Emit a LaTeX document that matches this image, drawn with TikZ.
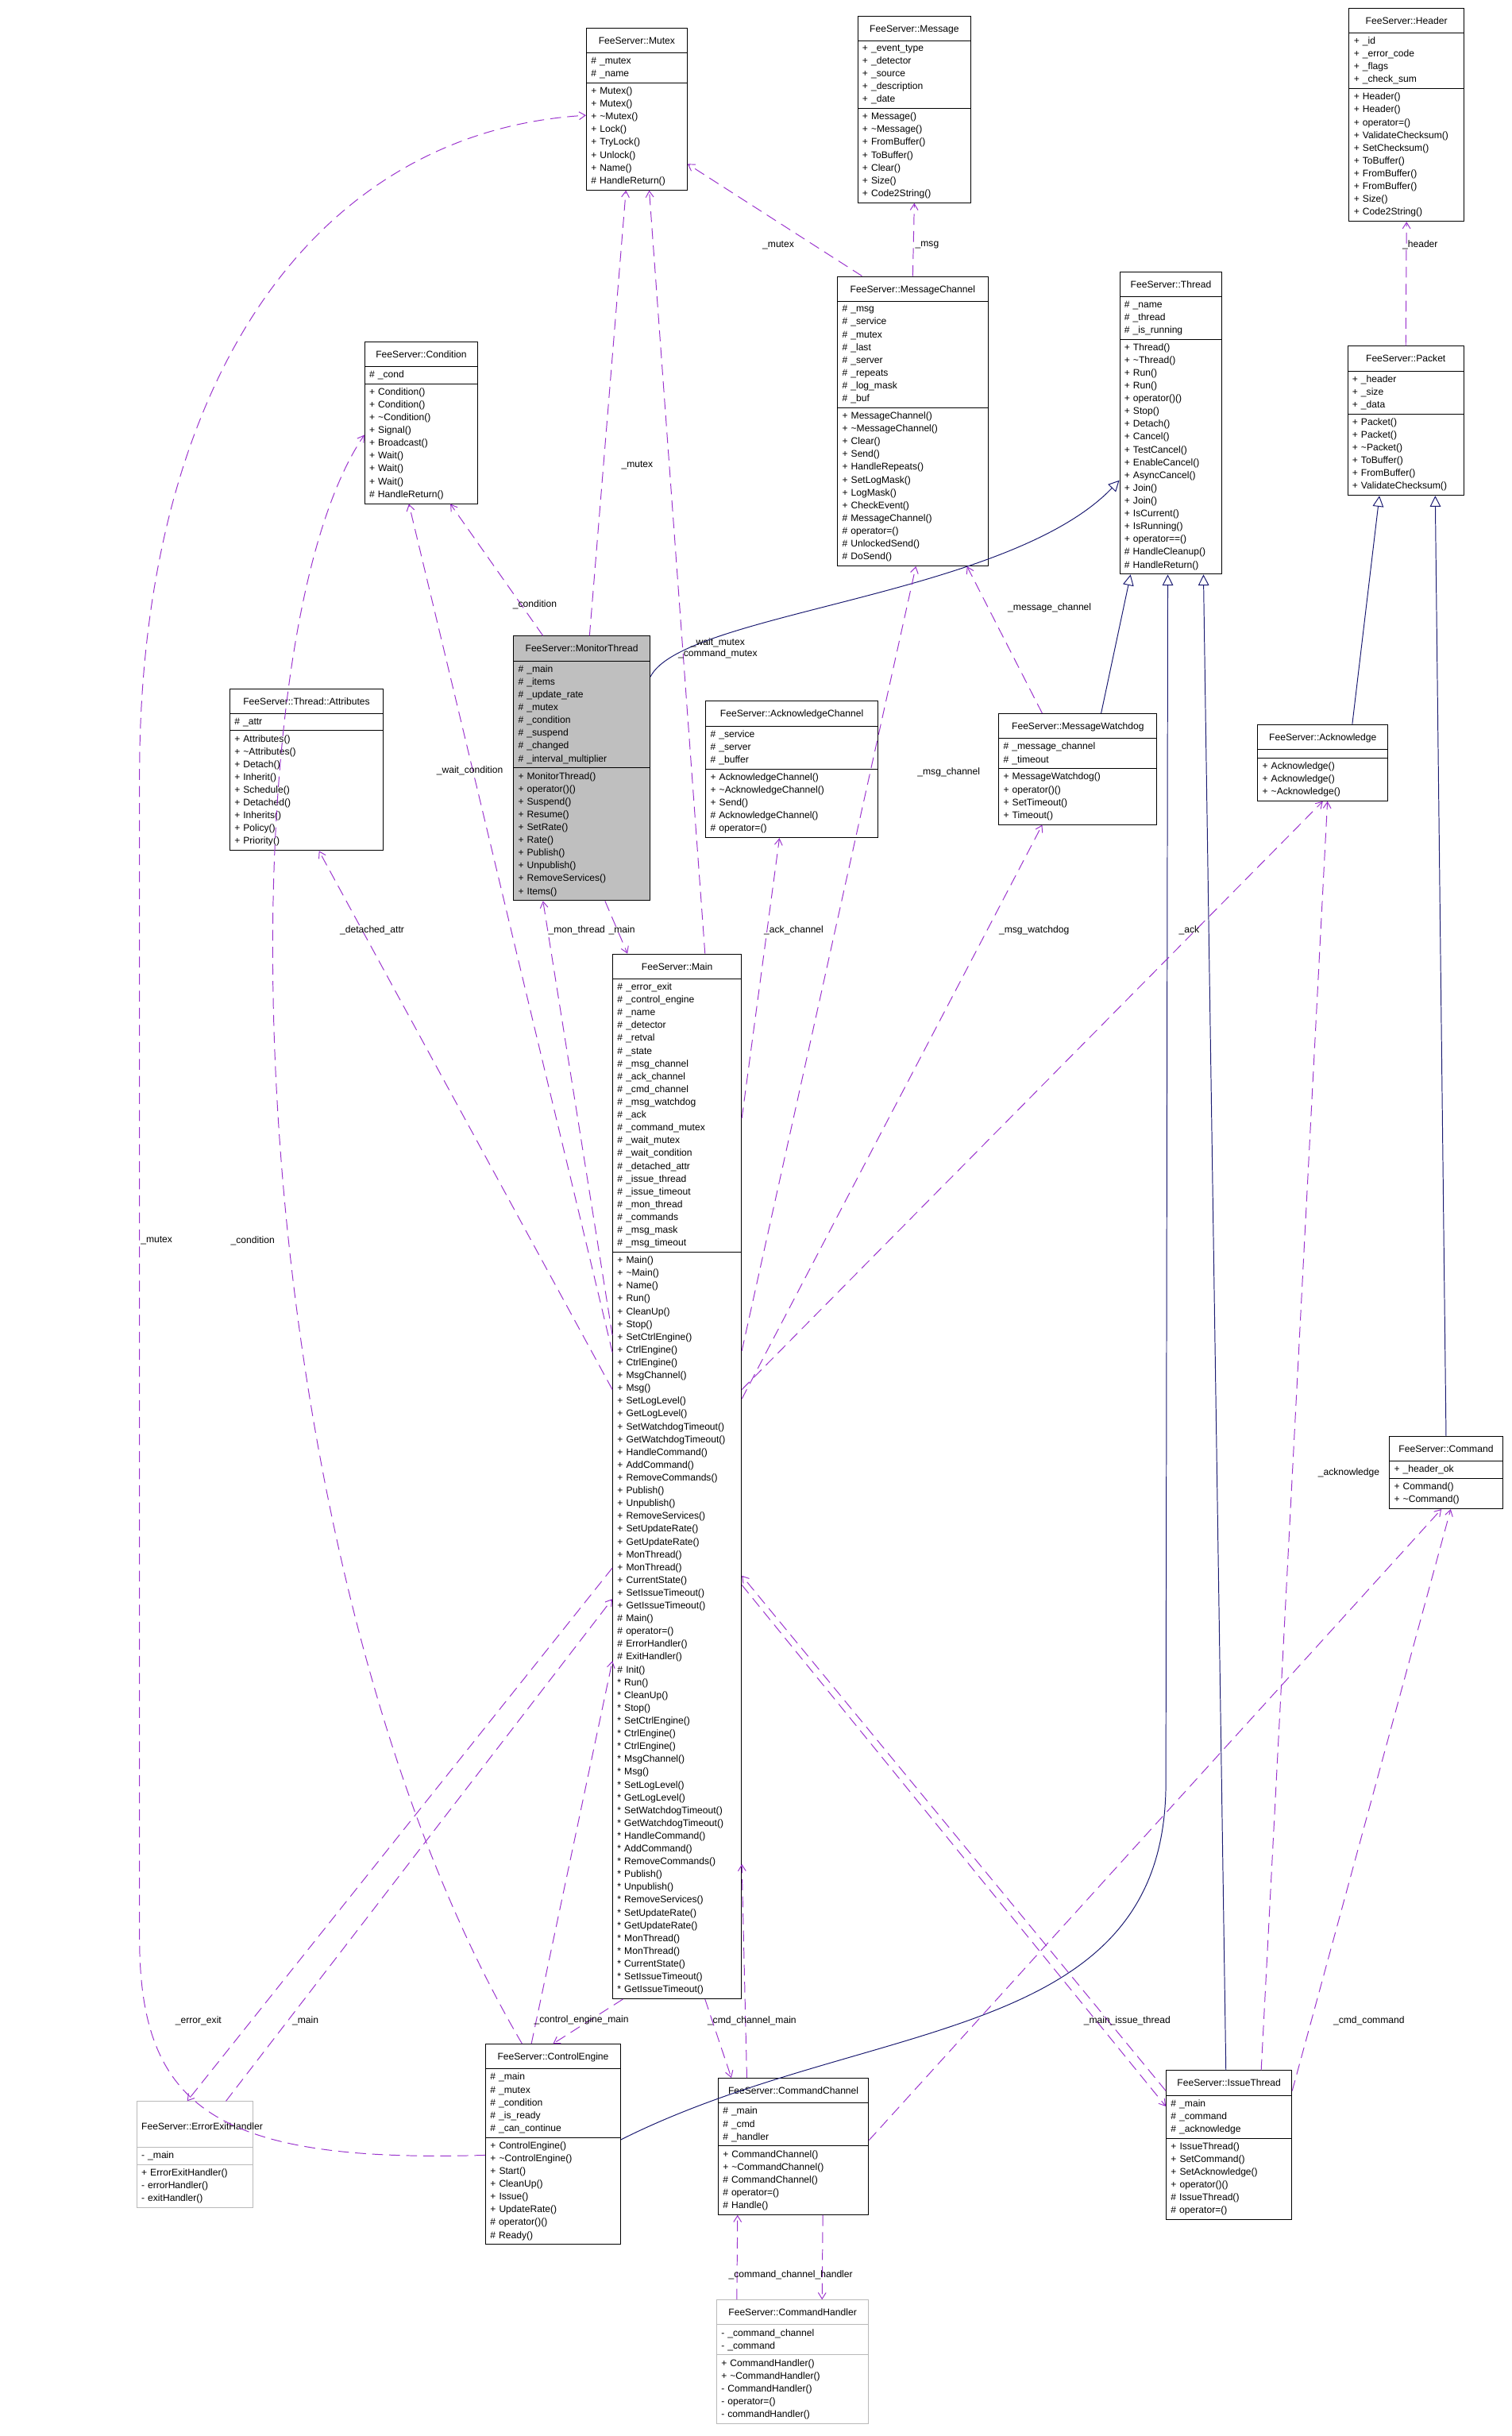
\documentclass[tikz,border=0pt]{standalone}
\usepackage{fontspec}
\setmainfont{Liberation Sans}
\usetikzlibrary{shapes.multipart,arrows.meta}

\definecolor{usecol}{RGB}{154,50,205}
\definecolor{isacol}{RGB}{25,25,112}
\newcommand\pp{+\ }
\newcommand\pr{\#\ }
\newcommand\pv{-\ }
\newcommand\pd{*\ }
\newcommand\tl{\textasciitilde}
% name, position, text width, title, attributes, methods, extra style
\newcommand\classbox[7]{%
  \node[cls,text width=#3,#7] (#1) at (#2) {\vrule width0pt height7.5pt depth3pt\hfill#4\hfill\null\nodepart{two}#5\nodepart{three}#6};}

\tikzset{
  cls/.style={rectangle split, rectangle split parts=3, draw, anchor=north west,
    inner xsep=3pt, inner ysep=2.5pt,
    font=\fontsize{6.2}{8.25}\selectfont, line width=0.5pt},
  uses/.style={dash pattern=on 7pt off 4pt, color=usecol, line width=0.5pt,
    -{Straight Barb[length=4pt,width=5pt]}},
  isa/.style={color=isacol, line width=0.5pt, -{Triangle[open,length=7pt,width=7pt]}},
  lbl/.style={font=\fontsize{6.2}{7}\selectfont, inner sep=0.5pt, align=center},
}

\begin{document}
\begin{tikzpicture}[x=1pt,y=-1pt]
\useasboundingbox (0,0) rectangle (975,1571);

% classes
\classbox{mutex}{378,18}{59pt}{FeeServer::Mutex}{\pr\_mutex\\\pr\_name}
  {\pp Mutex()\\\pp Mutex()\\\pp \tl Mutex()\\\pp Lock()\\\pp TryLock()\\\pp Unlock()\\\pp Name()\\\pr HandleReturn()}{}
\classbox{message}{553,10}{67pt}{FeeServer::Message}{\pp\_event\_type\\\pp\_detector\\\pp\_source\\\pp\_description\\\pp\_date}
  {\pp Message()\\\pp \tl Message()\\\pp FromBuffer()\\\pp ToBuffer()\\\pp Clear()\\\pp Size()\\\pp Code2String()}{}
\classbox{header}{870,5}{68pt}{FeeServer::Header}{\pp\_id\\\pp\_error\_code\\\pp\_flags\\\pp\_check\_sum}
  {\pp Header()\\\pp Header()\\\pp operator=()\\\pp ValidateChecksum()\\\pp SetChecksum()\\\pp ToBuffer()\\\pp FromBuffer()\\\pp FromBuffer()\\\pp Size()\\\pp Code2String()}{}
\classbox{cond}{235,220}{67pt}{FeeServer::Condition}{\pr\_cond}
  {\pp Condition()\\\pp Condition()\\\pp \tl Condition()\\\pp Signal()\\\pp Broadcast()\\\pp Wait()\\\pp Wait()\\\pp Wait()\\\pr HandleReturn()}{}
\classbox{msgchan}{540,178}{91pt}{FeeServer::MessageChannel}{\pr\_msg\\\pr\_service\\\pr\_mutex\\\pr\_last\\\pr\_server\\\pr\_repeats\\\pr\_log\_mask\\\pr\_buf}
  {\pp MessageChannel()\\\pp \tl MessageChannel()\\\pp Clear()\\\pp Send()\\\pp HandleRepeats()\\\pp SetLogMask()\\\pp LogMask()\\\pp CheckEvent()\\\pr MessageChannel()\\\pr operator=()\\\pr UnlockedSend()\\\pr DoSend()}{}
\classbox{thread}{722,175}{60pt}{FeeServer::Thread}{\pr\_name\\\pr\_thread\\\pr\_is\_running}
  {\pp Thread()\\\pp \tl Thread()\\\pp Run()\\\pp Run()\\\pp operator()()\\\pp Stop()\\\pp Detach()\\\pp Cancel()\\\pp TestCancel()\\\pp EnableCancel()\\\pp AsyncCancel()\\\pp Join()\\\pp Join()\\\pp IsCurrent()\\\pp IsRunning()\\\pp operator==()\\\pr HandleCleanup()\\\pr HandleReturn()}{}
\classbox{packet}{869,223}{69pt}{FeeServer::Packet}{\pp\_header\\\pp\_size\\\pp\_data}
  {\pp Packet()\\\pp Packet()\\\pp \tl Packet()\\\pp ToBuffer()\\\pp FromBuffer()\\\pp ValidateChecksum()}{}
\classbox{monthr}{331,410}{82pt}{FeeServer::MonitorThread}{\pr\_main\\\pr\_items\\\pr\_update\_rate\\\pr\_mutex\\\pr\_condition\\\pr\_suspend\\\pr\_changed\\\pr\_interval\_multiplier}
  {\pp MonitorThread()\\\pp operator()()\\\pp Suspend()\\\pp Resume()\\\pp SetRate()\\\pp Rate()\\\pp Publish()\\\pp Unpublish()\\\pp RemoveServices()\\\pp Items()}{fill=gray!50}
\classbox{attrs}{148,444}{93pt}{FeeServer::Thread::Attributes}{\pr\_attr}
  {\pp Attributes()\\\pp \tl Attributes()\\\pp Detach()\\\pp Inherit()\\\pp Schedule()\\\pp Detached()\\\pp Inherits()\\\pp Policy()\\\pp Priority()}{}
\classbox{ackchan}{455,452}{105pt}{FeeServer::AcknowledgeChannel}{\pr\_service\\\pr\_server\\\pr\_buffer}
  {\pp AcknowledgeChannel()\\\pp \tl AcknowledgeChannel()\\\pp Send()\\\pr AcknowledgeChannel()\\\pr operator=()}{}
\classbox{watchdog}{644,460}{96pt}{FeeServer::MessageWatchdog}{\pr\_message\_channel\\\pr\_timeout}
  {\pp MessageWatchdog()\\\pp operator()()\\\pp SetTimeout()\\\pp Timeout()}{}
\classbox{ack}{811,467}{78pt}{FeeServer::Acknowledge}{\null}
  {\pp Acknowledge()\\\pp Acknowledge()\\\pp \tl Acknowledge()}{}
\classbox{main}{395,615}{77pt}{FeeServer::Main}
  {\pr\_error\_exit\\\pr\_control\_engine\\\pr\_name\\\pr\_detector\\\pr\_retval\\\pr\_state\\\pr\_msg\_channel\\\pr\_ack\_channel\\\pr\_cmd\_channel\\\pr\_msg\_watchdog\\\pr\_ack\\\pr\_command\_mutex\\\pr\_wait\_mutex\\\pr\_wait\_condition\\\pr\_detached\_attr\\\pr\_issue\_thread\\\pr\_issue\_timeout\\\pr\_mon\_thread\\\pr\_commands\\\pr\_msg\_mask\\\pr\_msg\_timeout}
  {\pp Main()\\\pp \tl Main()\\\pp Name()\\\pp Run()\\\pp CleanUp()\\\pp Stop()\\\pp SetCtrlEngine()\\\pp CtrlEngine()\\\pp CtrlEngine()\\\pp MsgChannel()\\\pp Msg()\\\pp SetLogLevel()\\\pp GetLogLevel()\\\pp SetWatchdogTimeout()\\\pp GetWatchdogTimeout()\\\pp HandleCommand()\\\pp AddCommand()\\\pp RemoveCommands()\\\pp Publish()\\\pp Unpublish()\\\pp RemoveServices()\\\pp SetUpdateRate()\\\pp GetUpdateRate()\\\pp MonThread()\\\pp MonThread()\\\pp CurrentState()\\\pp SetIssueTimeout()\\\pp GetIssueTimeout()\\
   \pr Main()\\\pr operator=()\\\pr ErrorHandler()\\\pr ExitHandler()\\\pr Init()\\
   \pd Run()\\\pd CleanUp()\\\pd Stop()\\\pd SetCtrlEngine()\\\pd CtrlEngine()\\\pd CtrlEngine()\\\pd MsgChannel()\\\pd Msg()\\\pd SetLogLevel()\\\pd GetLogLevel()\\\pd SetWatchdogTimeout()\\\pd GetWatchdogTimeout()\\\pd HandleCommand()\\\pd AddCommand()\\\pd RemoveCommands()\\\pd Publish()\\\pd Unpublish()\\\pd RemoveServices()\\\pd SetUpdateRate()\\\pd GetUpdateRate()\\\pd MonThread()\\\pd MonThread()\\\pd CurrentState()\\\pd SetIssueTimeout()\\\pd GetIssueTimeout()}{}
\classbox{command}{896,926}{67pt}{FeeServer::Command}{\pp\_header\_ok}
  {\pp Command()\\\pp \tl Command()}{}
\classbox{ctrl}{313,1318}{81pt}{FeeServer::ControlEngine}{\pr\_main\\\pr\_mutex\\\pr\_condition\\\pr\_is\_ready\\\pr\_can\_continue}
  {\pp ControlEngine()\\\pp \tl ControlEngine()\\\pp Start()\\\pp CleanUp()\\\pp Issue()\\\pp UpdateRate()\\\pr operator()()\\\pr Ready()}{}
\classbox{errexit}{88,1355}{69pt}{FeeServer::ErrorExitHandler}{\pv\_main}
  {\pp ErrorExitHandler()\\\pv errorHandler()\\\pv exitHandler()}{draw=gray!55}
\classbox{cmdchan}{463,1340}{91pt}{FeeServer::CommandChannel}{\pr\_main\\\pr\_cmd\\\pr\_handler}
  {\pp CommandChannel()\\\pp \tl CommandChannel()\\\pr CommandChannel()\\\pr operator=()\\\pr Handle()}{}
\classbox{issue}{752,1335}{75pt}{FeeServer::IssueThread}{\pr\_main\\\pr\_command\\\pr\_acknowledge}
  {\pp IssueThread()\\\pp SetCommand()\\\pp SetAcknowledge()\\\pp operator()()\\\pr IssueThread()\\\pr operator=()}{}
\classbox{cmdhandler}{462,1483}{92pt}{FeeServer::CommandHandler}{\pv\_command\_channel\\\pv\_command}
  {\pp CommandHandler()\\\pp \tl CommandHandler()\\\pv CommandHandler()\\\pv operator=()\\\pv commandHandler()}{draw=gray!55}

% inheritance
\draw[isa] ([yshift=59pt]monthr.east) .. controls (440,395) and (650,385) .. ([yshift=-37pt]thread.west);
\draw[isa] ([xshift=15pt]watchdog.north) -- ([xshift=-26pt]thread.south);
\draw[isa] ([yshift=3pt]ctrl.east) .. controls (560,1300) and (752,1320) .. (752,1150) -- ([xshift=-2pt]thread.south);
\draw[isa] ([xshift=-2pt]issue.north) -- ([xshift=21pt]thread.south);
\draw[isa] ([xshift=19pt]ack.north) -- ([xshift=-17pt]packet.south);
\draw[isa] ([xshift=0pt]command.north) -- ([xshift=19pt]packet.south);

% usage
\draw[uses] ([xshift=16pt]msgchan.north west) -- ([yshift=17pt]mutex.south east);
\node[lbl] (l1) at (502,158) {\_mutex};
\draw[uses] ([xshift=5pt]monthr.north) -- ([xshift=-7pt]mutex.south);
\node[lbl] (l2) at (411,300) {\_mutex};
\draw[uses] ([xshift=18pt]main.north) -- ([xshift=8pt]mutex.south);
\node[lbl] (l3) at (463,418) {\_wait\_mutex\\\_command\_mutex};
\draw[uses] ([yshift=-7pt]ctrl.west) .. controls (140,1395) and (90,1360) .. (90,1250)
  -- (90,500) .. controls (90,250) and (200,85) .. ([yshift=-4pt]mutex.west);
\node[lbl] (l4) at (101,800) {\_mutex};
\draw[uses] (msgchan.north) -- (message.south);
\node[lbl] (l5) at (598,158) {\_msg};
\draw[uses] (packet.north) -- (header.south);
\node[lbl] (l6) at (916,158) {\_header};
\draw[uses] ([xshift=-25pt]monthr.north) -- ([xshift=-18pt]cond.south east);
\node[lbl] (l7) at (345,390) {\_condition};
\draw[uses] ([xshift=-20pt]ctrl.north) .. controls (150,1000) and (140,420) .. ([yshift=-8pt]cond.west);
\node[lbl] (l8) at (163,800) {\_condition};
\draw[uses] ([xshift=-23pt]watchdog.north) -- ([xshift=35pt]msgchan.south);
\node[lbl] (l9) at (677,392) {\_message\_channel};
\draw[uses] ([yshift=81pt]main.east) -- ([xshift=2pt]msgchan.south);
\node[lbl] (l10) at (612,498) {\_msg\_channel};
\draw[uses] ([yshift=91pt]main.west) -- ([xshift=-25pt]monthr.south);
\draw[uses] ([xshift=15pt]monthr.south) -- ([xshift=-32pt]main.north);
\node[lbl,anchor=east] (l11) at (391,600) {\_mon\_thread};
\node[lbl,anchor=west] (l12) at (392,600) {\_main};
\draw[uses] ([yshift=56pt]main.west) -- ([xshift=8pt]attrs.south);
\node[lbl] (l13) at (240,600) {\_detached\_attr};
\draw[uses] ([yshift=80pt]main.west) -- ([xshift=-8pt]cond.south);
\node[lbl] (l14) at (303,497) {\_wait\_condition};
\draw[uses] ([yshift=231pt]main.east) -- ([xshift=-8pt]ackchan.south);
\node[lbl] (l15) at (512,600) {\_ack\_channel};
\draw[uses] ([yshift=50pt]main.east) -- ([xshift=-23pt]watchdog.south);
\node[lbl] (l16) at (667,600) {\_msg\_watchdog};
\draw[uses] ([yshift=56pt]main.east) -- (ack.south);
\node[lbl] (l17) at (767,600) {\_ack};
\draw[uses] ([yshift=-59pt]main.west) -- ([xshift=-5pt]errexit.north);
\node[lbl] (l18) at (128,1303) {\_error\_exit};
\draw[uses] ([xshift=20pt]errexit.north) -- ([yshift=-79pt]main.west);
\node[lbl] (l19) at (197,1303) {\_main};
\draw[uses] ([xshift=-35pt]main.south) -- (ctrl.north);
\draw[uses] ([xshift=-14pt]ctrl.north) -- ([yshift=-119pt]main.west);
\node[lbl] (l20) at (375,1303) {\_control\_engine\_main};
\draw[uses] ([xshift=18pt]main.south) -- ([xshift=-40pt]cmdchan.north);
\draw[uses] ([xshift=-30pt]cmdchan.north) -- ([yshift=-250pt]main.east);
\node[lbl] (l21) at (485,1303) {\_cmd\_channel\_main};
\draw[uses] ([yshift=35pt]issue.west) -- ([yshift=-64pt]main.east);
\draw[uses] ([yshift=-70pt]main.east) -- ([yshift=25pt]issue.west);
\node[lbl] (l22) at (727,1303) {\_main\_issue\_thread};
\draw[uses] ([yshift=4pt]cmdchan.east) -- ([xshift=-3pt]command.south);
\draw[uses] ([yshift=35pt]issue.east) -- ([xshift=3pt]command.south);
\node[lbl] (l23) at (883,1303) {\_cmd\_command};
\draw[uses] ([xshift=-20pt]issue.north east) -- ([xshift=3pt]ack.south);
\node[lbl] (l24) at (870,950) {\_acknowledge};
\draw[uses] ([xshift=19pt]cmdchan.south) -- ([xshift=19pt]cmdhandler.north);
\draw[uses] ([xshift=-36pt]cmdhandler.north) -- ([xshift=-36pt]cmdchan.south);
\node[lbl] (l25) at (510,1467) {\_command\_channel\_handler};
\end{tikzpicture}
\end{document}
